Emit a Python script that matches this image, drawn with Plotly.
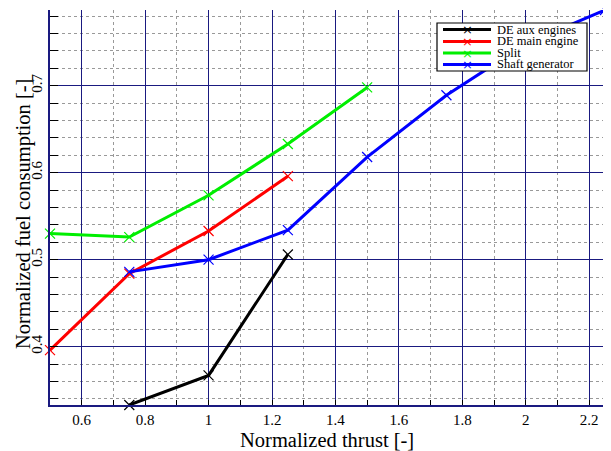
import plotly.graph_objects as go

thrust_aux = [0.75, 1.0, 1.25]
fuel_aux = [0.333, 0.367, 0.506]

thrust_main = [0.5, 0.75, 1.0, 1.25]
fuel_main = [0.396, 0.484, 0.533, 0.596]

thrust_split = [0.5, 0.75, 1.0, 1.25, 1.5]
fuel_split = [0.530, 0.526, 0.574, 0.633, 0.698]

thrust_shaft = [0.75, 1.0, 1.25, 1.5, 1.75, 2.0, 2.25]
fuel_shaft = [0.486, 0.500, 0.534, 0.618, 0.689, 0.748, 0.787]

series_names = ["DE aux engines", "DE main engine", "Split", "Shaft generator"]
series_colors = ["#000000", "#ff0000", "#00ee00", "#0000ff"]
series_x = [thrust_aux, thrust_main, thrust_split, thrust_shaft]
series_y = [fuel_aux, fuel_main, fuel_split, fuel_shaft]

FONT = "Liberation Serif"
NAVY = "#1a1a80"

# page body has an 8px margin: the figure starts at (8, 8) in the window
OFF = 8
W, H = 611 - OFF, 451 - OFF

fig = go.Figure()
for name, col, xs, ys in zip(series_names, series_colors, series_x, series_y):
    fig.add_trace(go.Scatter(
        x=xs, y=ys, name=name, mode="lines+markers",
        line=dict(color=col, width=3),
        marker=dict(symbol="x-thin-open", size=10, line=dict(color=col, width=1.2)),
        showlegend=False, cliponaxis=False,
    ))

# plot area geometry in window pixels
L, R, T, B = 50, 605, 10, 405
def px(xp):
    return (xp - L) / (R - L)
def py(yp):
    return (B - yp) / (B - T)

shapes = [dict(type="rect", xref="paper", yref="paper",
               x0=px(437), x1=px(587), y0=py(71), y1=py(23),
               line=dict(color="#000000", width=1.2), fillcolor="white", layer="above")]
annotations = []
rows = [29.5, 41.5, 53, 64.5]
for name, col, ry in zip(series_names, series_colors, rows):
    shapes.append(dict(type="line", xref="paper", yref="paper",
                       x0=px(443), x1=px(491), y0=py(ry), y1=py(ry),
                       line=dict(color=col, width=3), layer="above"))
    annotations.append(dict(xref="paper", yref="paper", x=px(467), y=py(ry),
                            text="×", showarrow=False, xanchor="center", yanchor="middle",
                            font=dict(family="DejaVu Sans", size=13, color=col)))
    annotations.append(dict(xref="paper", yref="paper", x=px(495), y=py(ry),
                            text=name, showarrow=False, xanchor="left", yanchor="middle",
                            font=dict(family=FONT, size=12.5, color="#000000")))

# axis titles
annotations.append(dict(xref="paper", yref="paper", x=px(327), y=py(440),
                        text="Normalized thrust [-]", showarrow=False,
                        xanchor="center", yanchor="middle",
                        font=dict(family=FONT, size=20.5, color="#000000")))
annotations.append(dict(xref="paper", yref="paper", x=px(23), y=py(214),
                        text="Normalized fuel consumption [-]", showarrow=False, textangle=-90,
                        xanchor="center", yanchor="middle",
                        font=dict(family=FONT, size=20.5, color="#000000")))

fig.update_layout(
    width=W, height=H,
    margin=dict(l=L - OFF, r=611 - R, t=T - OFF, b=451 - B, pad=0),
    paper_bgcolor="white", plot_bgcolor="white",
    font=dict(family=FONT, color="#000000"),
    shapes=shapes, annotations=annotations,
    showlegend=False,
)
fig.update_xaxes(
    range=[0.5, 2.25], tick0=0, dtick=0.2, automargin=False,
    showgrid=True, gridcolor=NAVY, gridwidth=1.3,
    showline=True, linecolor=NAVY, linewidth=1.5, mirror=False,
    ticks="inside", ticklen=5, tickcolor="#000000",
    tickfont=dict(family=FONT, size=15),
    minor=dict(dtick=0.1, tick0=0, showgrid=True, gridcolor="#999999", griddash="dot",
               gridwidth=1, ticks="inside", ticklen=5, tickcolor="#000000"),
    zeroline=False,
)
fig.update_yaxes(
    range=[0.333, 0.787], tick0=0, dtick=0.1, automargin=False,
    showgrid=True, gridcolor=NAVY, gridwidth=1.3,
    showline=True, linecolor=NAVY, linewidth=1.5, mirror=False,
    ticks="inside", ticklen=8, tickcolor="#000000",
    tickangle=-90,
    tickfont=dict(family=FONT, size=15),
    minor=dict(dtick=0.02, tick0=0, showgrid=True, gridcolor="#999999", griddash="dot",
               gridwidth=1, ticks="inside", ticklen=8, tickcolor="#000000"),
    zeroline=False,
)

fig.write_html("out.html")
